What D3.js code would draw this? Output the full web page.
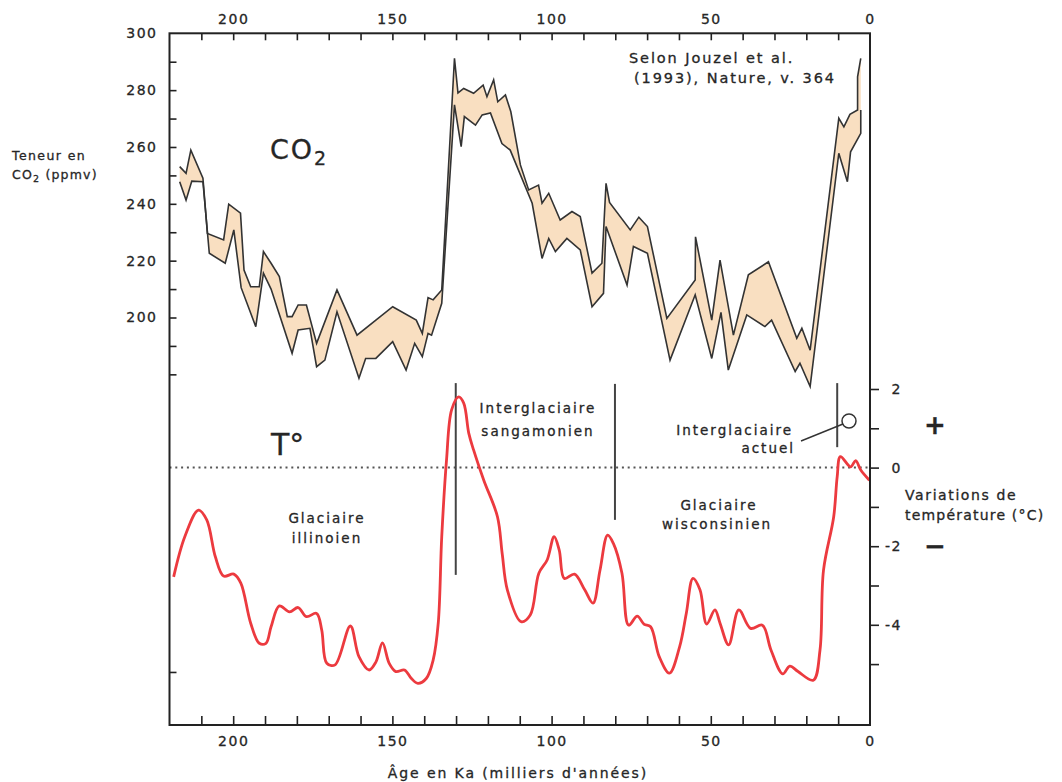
<!DOCTYPE html>
<html><head><meta charset="utf-8">
<script src="https://cdn.jsdelivr.net/npm/d3@7/dist/d3.min.js"></script>
<style>
body{margin:0;background:#fff;}
svg text{font-family:"DejaVu Sans",Verdana,sans-serif;fill:#262626;stroke:#262626;stroke-width:0.3px;}
</style></head>
<body>
<svg id="c" width="1062" height="782"></svg>
<script>
// ---- data (age in ka, CO2 in ppmv, temperature anomaly in °C) ----
const ageTicksMajor = [200, 150, 100, 50, 0];
const ageTicksMinor = [210,200,190,180,170,160,150,140,130,120,110,100,90,80,70,60,50,40,30,20,10];
const co2TickLabels = [300, 280, 260, 240, 220, 200];
const co2TicksMinor = [290,280,270,260,250,240,230,220,210,200,190,180];
const tempTickLabels = [2, 0, -2, -4];
const tempTicksMinor = [2,1,0,-1,-2,-3,-4,-5];
const leftTempTick = [-5.2];

const co2Upper = [
[216.8,253.1],[214.8,250.7],[213.3,258.9],[209.5,249.0],[208.1,229.6],[203.0,227.3],[201.4,239.9],[197.7,236.7],
[196.6,216.7],[194.5,210.8],[191.8,210.8],[190.5,223.2],[188.1,219.1],[185.5,214.4],[183.0,200.3],[181.5,200.3],
[179.6,204.4],[177.0,204.4],[173.8,190.9],[167.4,209.7],[161.1,193.8],[149.9,203.8],[142.5,199.1],[140.6,194.4],
[138.8,207.0],[137.2,206.2],[134.5,209.7],[130.5,291.2],[129.4,279.0],[127.6,280.6],[124.5,278.9],[121.5,281.8],
[120.3,277.7],[118.2,283.6],[116.9,275.9],[114.5,278.3],[112.8,272.4],[109.8,253.7],[107.2,244.9],[104.1,246.6],
[103.0,240.2],[100.9,243.7],[97.3,234.3],[93.6,237.3],[91.0,235.5],[87.3,215.6],[84.2,219.1],[82.9,247.2],
[81.8,240.5],[75.3,230.8],[72.6,235.3],[69.9,232.0],[63.8,199.7],[54.9,213.2],[54.8,228.4],[49.7,199.1],
[47.1,220.2],[42.9,193.8],[38.2,215.0],[31.9,219.6],[23.0,192.7],[21.4,196.2],[18.8,188.5],[9.8,270.1],
[8.2,267.1],[6.3,271.5],[3.9,273.0],[3.9,284.7],[2.9,291.2]
];
const co2Lower = [
[216.8,247.8],[214.8,241.3],[213.0,248.0],[209.5,247.8],[207.5,222.6],[202.5,219.1],[199.8,230.8],[197.5,210.5],
[192.9,196.8],[190.5,215.6],[188.1,210.0],[181.5,187.4],[179.6,195.6],[175.9,196.2],[173.8,182.7],[171.2,185.0],
[167.4,202.0],[160.5,178.6],[158.4,185.6],[155.2,185.6],[149.9,191.5],[145.7,181.5],[143.0,190.9],[140.6,186.2],
[138.8,194.4],[137.7,193.8],[134.5,205.0],[130.5,274.8],[128.4,260.1],[127.4,270.7],[123.9,267.7],[121.8,271.3],
[119.2,272.0],[115.6,261.2],[113.0,258.9],[106.1,240.2],[103.0,220.8],[100.9,227.8],[98.8,223.2],[95.2,227.8],
[91.0,223.8],[87.3,203.8],[83.7,208.5],[82.9,232.0],[76.3,211.4],[74.3,225.0],[69.9,222.6],[62.8,185.0],
[54.9,208.0],[49.7,185.6],[46.8,201.8],[44.5,181.5],[38.7,200.9],[33.0,196.8],[30.9,199.1],[23.5,181.0],
[22.0,183.9],[18.8,175.7],[9.8,257.8],[7.1,247.8],[6.1,258.3],[2.9,264.8],[2.9,273.0]
];
const tempSeries = [
[218.7,-2.78],[215.2,-1.76],[210.9,-1.08],[208.3,-1.33],[205.6,-2.27],[203.0,-2.76],[199.8,-2.71],[197.6,-2.94],
[194.5,-3.96],[191.8,-4.47],[189.7,-4.47],[188.1,-4.05],[185.5,-3.52],[182.3,-3.67],[179.6,-3.56],[177.0,-3.79],
[173.8,-3.71],[172.2,-4.13],[170.6,-4.98],[168.0,-5.02],[163.2,-4.03],[160.5,-4.81],[157.3,-5.15],[155.2,-4.95],
[153.1,-4.46],[151.0,-4.98],[148.9,-5.19],[146.2,-5.15],[144.1,-5.36],[142.0,-5.49],[139.3,-5.36],[137.2,-4.90],
[135.6,-3.96],[134.5,-1.76],[133.0,0.19],[131.4,1.47],[129.2,1.80],[127.6,1.64],[126.0,0.87],[124.5,0.45],
[121.3,-0.32],[117.0,-1.25],[115.5,-2.2],[113.9,-3.11],[109.6,-3.92],[106.7,-3.75],[104.0,-2.69],[101.4,-2.35],
[99.2,-1.76],[97.6,-2.10],[96.0,-2.82],[92.8,-2.71],[89.6,-3.11],[87.0,-3.45],[84.8,-2.61],[82.4,-1.72],
[80.6,-1.93],[77.9,-2.69],[75.8,-4.01],[73.1,-3.78],[71.0,-3.98],[68.9,-4.05],[66.2,-4.81],[63.0,-5.23],
[59.8,-4.56],[57.7,-3.71],[55.6,-2.82],[53.4,-3.11],[51.3,-3.98],[48.7,-3.62],[47.1,-3.96],[44.4,-4.51],
[41.2,-3.62],[37.5,-4.09],[33.8,-4.01],[31.1,-4.64],[27.4,-5.25],[25.2,-5.05],[22.6,-5.19],[17.8,-5.41],
[15.7,-4.64],[14.6,-2.61],[11.4,-1.25],[10.3,-0.23],[9.3,0.28],[6.1,0.02],[4.5,0.18],[2.9,-0.06],[0.2,-0.32]
];
// period boundaries: [age, top temp, bottom temp]
const boundaries = [[130.1, 2.15, -2.73],[80.1, 2.13, -1.33],[10.3, 2.15, 0.52]];

// ---- scales ----
const L=169.5, R=870, T=33.3, B=725;
const x = d3.scaleLinear().domain([220,0]).range([L,R]);
const yC = d3.scaleLinear().domain([200,300]).range([317.5,T]);
const yT = d3.scaleLinear().domain([0,2]).range([467.6,389]);

const svg = d3.select("#c");
svg.append("rect").attr("width",1062).attr("height",782).attr("fill","#fff");

// CO2 band
const lineC = d3.line().x(d=>x(d[0])).y(d=>yC(d[1]));
const poly = co2Upper.concat(co2Lower.slice().reverse());
svg.append("path").attr("d", lineC(poly)+"Z").attr("fill","#f9dfc1").attr("stroke","none");
[co2Upper, co2Lower].forEach(s=>{
  svg.append("path").attr("d", lineC(s)).attr("fill","none").attr("stroke","#333").attr("stroke-width",1.6).attr("stroke-linejoin","miter");
});

// zero line
svg.append("line").attr("x1",L).attr("x2",R).attr("y1",yT(0)).attr("y2",yT(0))
  .attr("stroke","#555").attr("stroke-width",2).attr("stroke-dasharray","2,3.8");

// boundaries
boundaries.forEach(b=>{
  svg.append("line").attr("x1",x(b[0])).attr("x2",x(b[0])).attr("y1",yT(b[1])).attr("y2",yT(b[2]))
    .attr("stroke","#444").attr("stroke-width",2);
});

// temperature curve
const lineT = d3.line().x(d=>x(d[0])).y(d=>yT(d[1])).curve(d3.curveCatmullRom.alpha(0.5));
svg.append("path").attr("d", lineT(tempSeries)).attr("fill","none").attr("stroke","#ec3a3f").attr("stroke-width",2.8);

// axes
function clean(g){ g.select(".domain").remove(); g.selectAll("line").attr("stroke","#222").attr("stroke-width",1.6); g.selectAll("text").attr("fill","#262626"); }
const fs = "14px";
svg.append("g").attr("transform",`translate(0,${T})`).call(d3.axisTop(x).tickValues(ageTicksMinor).tickSize(-7).tickFormat("")).call(clean);
svg.append("g").attr("transform",`translate(0,${T})`).call(d3.axisTop(x).tickValues(ageTicksMajor).tickSize(0).tickPadding(9)).call(clean)
  .call(g=>g.selectAll("text").style("font-size",fs).attr("letter-spacing",1.5).attr("font-family","DejaVu Sans"));
svg.append("g").attr("transform",`translate(0,${B})`).call(d3.axisBottom(x).tickValues(ageTicksMinor).tickSize(-9).tickFormat("")).call(clean);
svg.append("g").attr("transform",`translate(0,${B})`).call(d3.axisBottom(x).tickValues(ageTicksMajor).tickSize(0).tickPadding(11)).call(clean)
  .call(g=>g.selectAll("text").style("font-size",fs).attr("letter-spacing",1.5).attr("font-family","DejaVu Sans"));
svg.append("g").attr("transform",`translate(${L},0)`).call(d3.axisLeft(yC).tickValues(co2TicksMinor).tickSize(-7).tickFormat("")).call(clean);
svg.append("g").attr("transform",`translate(${L},0)`).call(d3.axisLeft(yC).tickValues(co2TickLabels).tickSize(0).tickPadding(12)).call(clean)
  .call(g=>g.selectAll("text").style("font-size",fs).attr("letter-spacing",1.5).attr("font-family","DejaVu Sans"));
svg.append("g").attr("transform",`translate(${L},0)`).call(d3.axisLeft(yT).tickValues(leftTempTick).tickSize(-7).tickFormat("")).call(clean);
svg.append("g").attr("transform",`translate(${R},0)`).call(d3.axisRight(yT).tickValues(tempTicksMinor).tickSize(9).tickFormat("")).call(clean);
svg.append("g").attr("transform",`translate(${R},0)`).call(d3.axisRight(yT).tickValues(tempTickLabels).tickSize(0).tickFormat(d=>String(d).replace("−","-"))).call(clean)
  .call(g=>g.selectAll("text").style("font-size",fs).attr("text-anchor","end").attr("x",32).attr("letter-spacing",1.5).attr("font-family","DejaVu Sans"));

// frame
svg.append("rect").attr("x",L).attr("y",T).attr("width",R-L).attr("height",B-T)
  .attr("fill","none").attr("stroke","#222").attr("stroke-width",2);

// texts
function txt(s,xx,yy,opt={}){
  const t=svg.append("text").attr("x",xx).attr("y",yy).text(s)
   .style("font-size",(opt.size||14)+"px").attr("letter-spacing",opt.ls!=null?opt.ls:1.8)
   .attr("text-anchor",opt.anchor||"start");
  if(opt.weight) t.style("font-weight",opt.weight);
  return t;
}
// left title
txt("Teneur en",12,160,{size:12.5,ls:1.4});
const co2t = svg.append("text").attr("x",12).attr("y",179).style("font-size","12.5px").attr("letter-spacing",1.2);
co2t.append("tspan").text("CO");
co2t.append("tspan").text("2").style("font-size","9.5px").attr("dy",3);
co2t.append("tspan").text(" (ppmv)").attr("dy",-3);

// CO2 big label
const big = svg.append("text").attr("x",270).attr("y",159).style("font-size","27px").attr("letter-spacing",2);
big.append("tspan").text("CO");
big.append("tspan").text("2").style("font-size","19px").attr("dy",6);
txt("T°",271,455,{size:30,ls:0});

// source
txt("Selon Jouzel et al.",629,63,{size:14.5,ls:1.9});
txt("(1993), Nature, v. 364",634,83,{size:14.5,ls:1.9});

// period labels
txt("Glaciaire",327,523,{size:13.5,ls:2,anchor:"middle"});
txt("illinoien",327,543,{size:13.5,ls:2,anchor:"middle"});
txt("Interglaciaire",538,413,{size:13.5,ls:2,anchor:"middle"});
txt("sangamonien",538,436,{size:13.5,ls:2,anchor:"middle"});
txt("Glaciaire",719,510,{size:13.5,ls:2,anchor:"middle"});
txt("wisconsinien",717,529,{size:13.5,ls:2,anchor:"middle"});
txt("Interglaciaire",793,435,{size:13.5,ls:2,anchor:"end"});
txt("actuel",795,453,{size:13.5,ls:2,anchor:"end"});
svg.append("line").attr("x1",801).attr("y1",441).attr("x2",843).attr("y2",424).attr("stroke","#333").attr("stroke-width",1.4);
svg.append("circle").attr("cx",849).attr("cy",421).attr("r",7).attr("fill","none").attr("stroke","#333").attr("stroke-width",1.5);

// right title & signs
txt("Variations de",905,500,{size:14,ls:1.6});
txt("température (°C)",905,520,{size:14,ls:1.2});
txt("+",935,434,{size:26,ls:0,anchor:"middle",weight:"bold"});
txt("−",935,555,{size:26,ls:0,anchor:"middle",weight:"bold"});

// x title
txt("Âge en Ka (milliers d'années)",518,778,{size:14,ls:1.9,anchor:"middle"});
</script>
</body></html>
